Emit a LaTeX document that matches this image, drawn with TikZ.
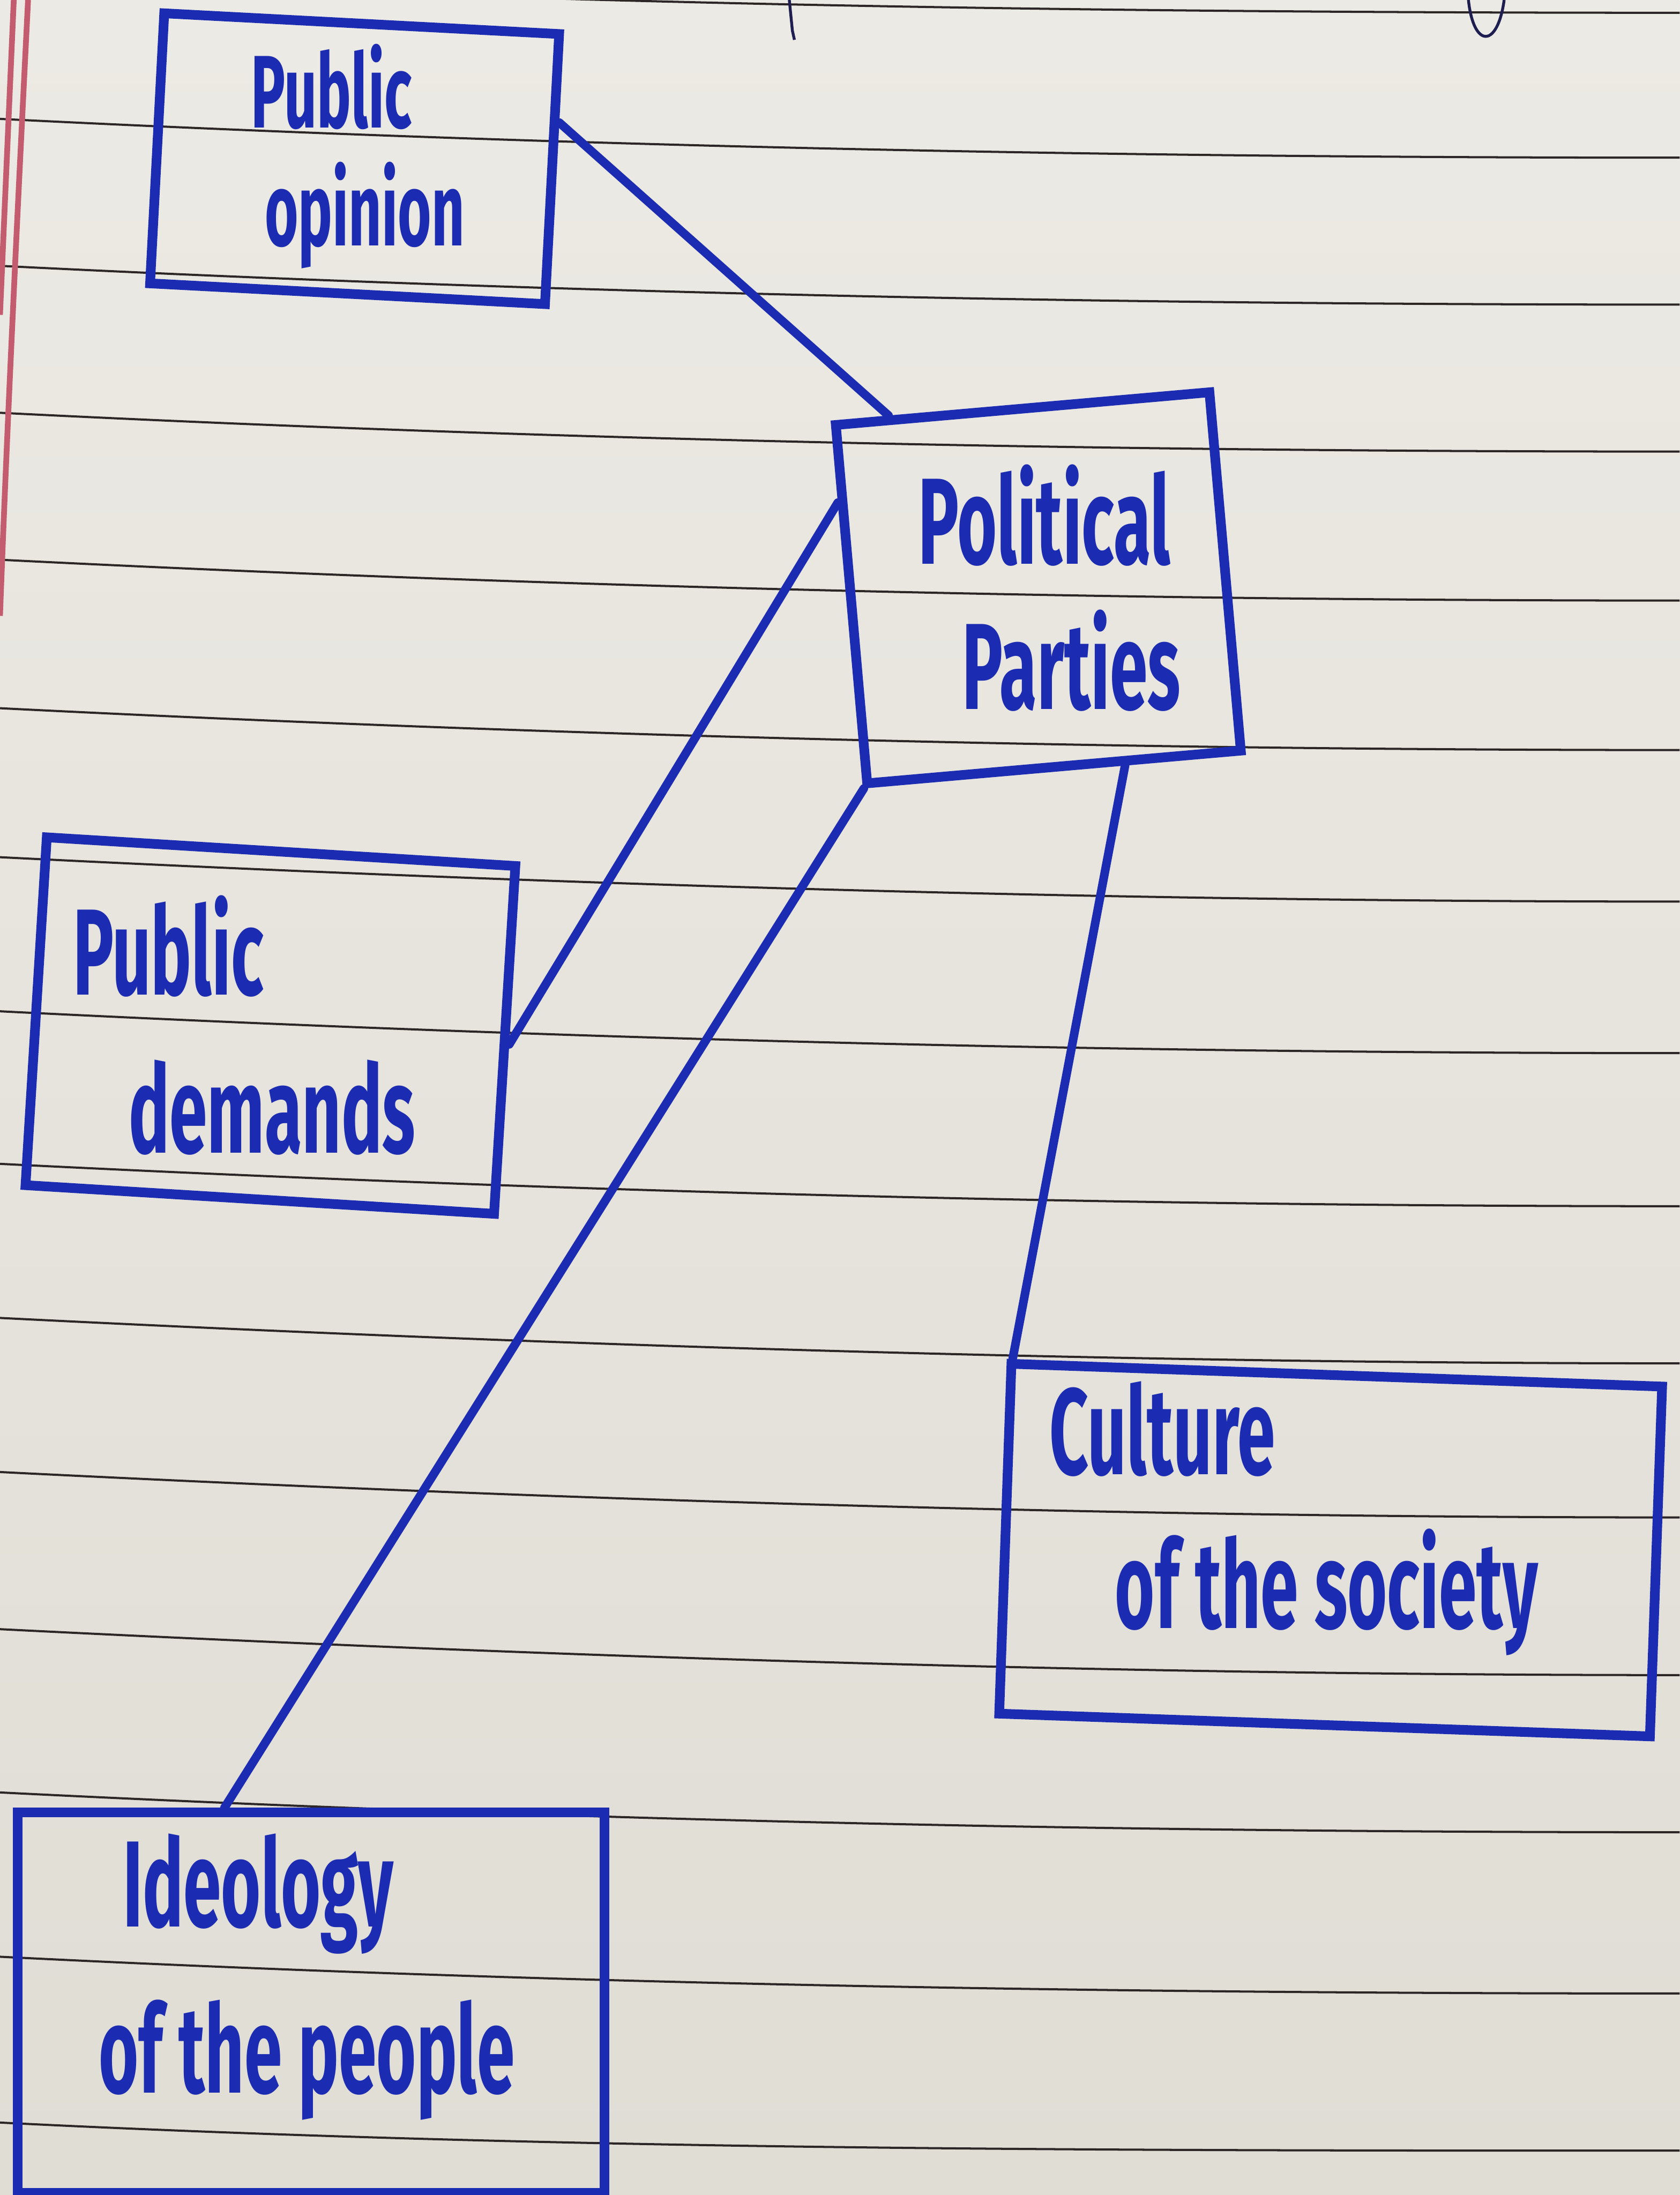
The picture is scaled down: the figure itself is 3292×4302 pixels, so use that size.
\documentclass[tikz,border=0pt]{standalone}
\usepackage{fontspec}
\setmainfont{Fira Sans}
\usepackage{graphicx}

\definecolor{ink}{RGB}{28,44,178}
\definecolor{paper}{RGB}{224,221,213}
\definecolor{paperlight}{RGB}{236,234,228}
\definecolor{rulegrey}{RGB}{45,38,38}
\definecolor{marginred}{RGB}{196,92,112}
\definecolor{pencil}{RGB}{30,30,80}

% handwritten looking word: tall and narrow
\newcommand{\hw}[2][19]{{\fontsize{#1}{#1}\selectfont\bfseries\scalebox{1}[1.8]{#2}}}

\tikzset{
  box/.style={draw=ink, line width=2.7pt, rectangle, inner sep=0pt},
  link/.style={draw=ink, line width=2.4pt, line cap=round},
  word/.style={text=ink, anchor=base, inner sep=0pt},
  ruled/.style={draw=rulegrey, line width=0.6pt},
}

\begin{document}
\begin{tikzpicture}[x=0.05mm, y=-0.05mm]
  % paper
  \useasboundingbox (0,0) rectangle (3292,4302);
  \clip (0,0) rectangle (3292,4302);
  \shade[top color=paperlight, bottom color=paper] (0,0) rectangle (3292,4302);

  % ruled lines
  \foreach \yl/\yr in {-45/25, 233/309, 521/597, 809/885, 1097/1177,
      1388/1470, 1680/1767, 1982/2064, 2281/2364, 2583/2672, 2885/2974,
      3193/3283, 3513/3591, 3835/3907, 4160/4215}
    \draw[ruled] (0,\yl) .. controls (1100,\yl+55) and (2200,\yr) .. (3292,\yr);

  % margin
  \draw[marginred, line width=1.6pt] (27,0) -- (0,617);
  \draw[marginred, line width=1.6pt] (55,0) .. controls (40,300) and (15,800) .. (0,1207);

  % bits of the line above
  \draw[pencil, line width=0.8pt] (1547,0) -- (1553,60) -- (1557,78);
  \draw[pencil, line width=0.8pt] (2878,0) .. controls (2888,95) and (2935,95) .. (2948,0);

  % boxes
  \node[box, minimum width=38.75mm, minimum height=26.5mm, rotate=-3] (po) at (695,311) {};
  \node[box, minimum width=36.75mm, minimum height=35.25mm, rotate=5] (pp) at (2035,1152) {};
  \node[box, minimum width=46mm, minimum height=34.15mm, rotate=-3.5] (pd) at (530,2010) {};
  \node[box, minimum width=63.8mm, minimum height=34.3mm, rotate=-2] (cs) at (2608,3038) {};
  \node[box, minimum width=57.5mm, minimum height=37.25mm] (ip) at (610,3925) {};

  % links to the parties
  \draw[link] (po.13.5) -- (pp.126.7);
  \draw[link] (pd.-1) -- (pp.152.8);
  \draw[link] (ip.114.8) -- (pp.224.4);
  \draw[link] (pp.-69.6) -- (cs.151);

  % words
  \node[word] (po1) at (650,250) {\hw[16]{Public}};
  \node[word] (po2) at (715,482) {\hw[16]{opinion}};
  \node[word] (pp1) at (2047,1105) {\hw{Political}};
  \node[word] (pp2) at (2100,1390) {\hw{Parties}};
  \node[word] (pd1) at (330,1950) {\hw{Public}};
  \node[word] (pd2) at (533,2260) {\hw{demands}};
  \node[word] (cs1) at (2278,2890) {\hw{Culture}};
  \node[word] (cs2) at (2600,3191) {\hw{of the society}};
  \node[word] (ip1) at (506,3776) {\hw{Ideology}};
  \node[word] (ip2) at (601,4102) {\hw{of the people}};
\end{tikzpicture}
\end{document}
